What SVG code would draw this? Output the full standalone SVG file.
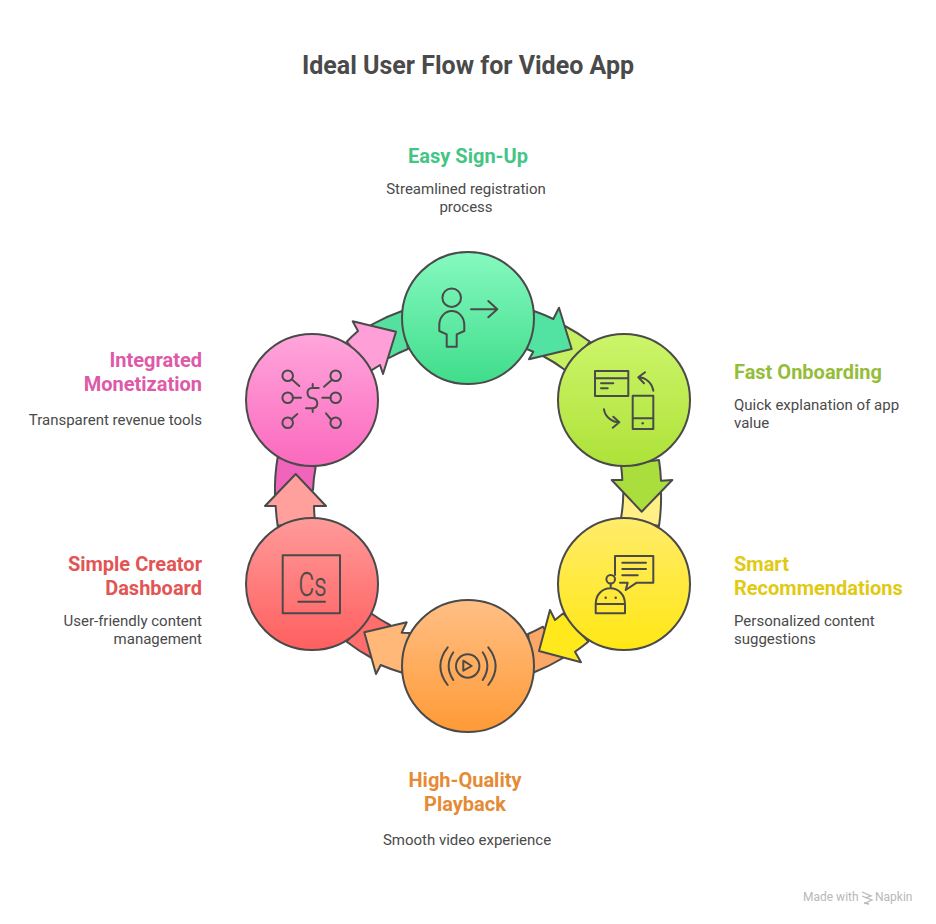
<svg xmlns="http://www.w3.org/2000/svg" width="936" height="924" viewBox="0 0 936 924">
<style>
.c{stroke:#4a4a4a;stroke-width:2;stroke-linejoin:round}
.i{fill:none;stroke:#4a4a4a;stroke-width:2;stroke-linecap:round;stroke-linejoin:round}
.t{font-family:Roboto,"Liberation Sans",sans-serif;font-weight:700;font-size:20px}
.b{font-family:Roboto,"Liberation Sans",sans-serif;font-size:15px;fill:#4a4a4a}
.r{text-anchor:end}.m{text-anchor:middle}
</style>
<defs>
<linearGradient id="gG" x1="0" y1="0" x2="0" y2="1"><stop offset="0" stop-color="#86f9c0"/><stop offset="1" stop-color="#3fdd8b"/></linearGradient>
<linearGradient id="gL" x1="0" y1="0" x2="0" y2="1"><stop offset="0" stop-color="#ccf56a"/><stop offset="1" stop-color="#aee238"/></linearGradient>
<linearGradient id="gY" x1="0" y1="0" x2="0" y2="1"><stop offset="0" stop-color="#ffec6a"/><stop offset="1" stop-color="#ffe714"/></linearGradient>
<linearGradient id="gO" x1="0" y1="0" x2="0" y2="1"><stop offset="0" stop-color="#ffbf85"/><stop offset="1" stop-color="#ff9a36"/></linearGradient>
<linearGradient id="gR" x1="0" y1="0" x2="0" y2="1"><stop offset="0" stop-color="#ff9a9a"/><stop offset="1" stop-color="#ff5f5f"/></linearGradient>
<linearGradient id="gP" x1="0" y1="0" x2="0" y2="1"><stop offset="0" stop-color="#ffa6dc"/><stop offset="1" stop-color="#fb69bd"/></linearGradient>
</defs>
<rect width="936" height="924" fill="#fff"/>
<text x="468" y="74" text-anchor="middle" font-family="Roboto,'Liberation Sans',sans-serif" font-weight="700" font-size="25" fill="#4a4a4a">Ideal User Flow for Video App</text>
<g id="connectors">
<path class="c" fill="#f064bc" d="M275 495A193 193 0 0 1 277.700 457L315.700 466.700A155 155 0 0 0 313 490Z"/>
<path class="c" fill="#ffa09c" d="M277.700 526A193 193 0 0 1 275.700 506H265L295.700 474L326 506H314A155 155 0 0 0 314.700 518Z"/>
<path class="c" fill="#ff6d6d" d="M371.700 658A193 193 0 0 1 346.700 641.700L371 613.300A155 155 0 0 0 390 625Z"/>
<path class="c" fill="#ffb878" d="M410 633L401.700 632.700L406.700 622.300L364.300 632.300L376 674L380.700 665A193 193 0 0 0 402.300 672.700Z"/>
<path class="c" fill="#fba766" d="M563 658A193 193 0 0 1 533 672.700L528 634A155 155 0 0 0 543 626.700Z"/>
<path class="c" fill="#ffe81c" d="M563.300 613.300L555 620L550 610L539 651L581 662.300L575 651.700A193 193 0 0 0 588.300 641.700Z"/>
<path class="c" fill="#ffef85" d="M661 493A193 193 0 0 1 659 526L621 518.300A155 155 0 0 0 623.300 493.300Z"/>
<path class="c" fill="#aade3c" d="M621 465A155 155 0 0 1 622.300 480H611.700L641.700 511.700L672.300 480L661 480.700A193 193 0 0 0 659 460Z"/>
<path class="c" fill="#c6f062" d="M565 326A193 193 0 0 1 590 341.700L565 370A155 155 0 0 0 543 356Z"/>
<path class="c" fill="#52e3a2" d="M534 311A193 193 0 0 1 553.300 319L559 307.700L571.700 349L529 359.300L533.300 351.700L526.700 349Z"/>
<path class="c" fill="#56e0a0" d="M371 325A193 193 0 0 1 402.700 310.700L408 349A155 155 0 0 0 389 358Z"/>
<path class="c" fill="#ff9fd8" d="M346.700 341.700A193 193 0 0 1 358 331L352.700 321.300L396 331.700L383 374L380 365L371 370.700Z"/>
</g>
<g id="node-signup">
<circle class="c" cx="468" cy="318" r="66" fill="url(#gG)"/>
<circle class="i" cx="451.700" cy="297.700" r="9.300"/>
<path class="i" d="M439.300 331V325A12.500 14 0 0 1 464.300 325V331L456.700 334.300V346.700H446.700V334.300Z"/>
<path class="i" d="M471 309.300H497.300M488.300 301L497.300 309.300L488.300 317.300"/>
</g>
<g id="node-onboarding">
<circle class="c" cx="624" cy="400" r="66" fill="url(#gL)"/>
<path class="i" d="M595 371H628.300V396H595ZM595 378.300H628.300M601 383.300H613.300M601 388.300H607.700M632.700 395.700H653.300V429H632.700ZM632.700 418.300H653.300"/>
<circle cx="642.700" cy="423.300" r="1.200" fill="#4a4a4a"/>
<path class="i" d="M653.300 390.700C652 383 646 377.500 638.300 377.300M645 372.300L638.300 377.300L644 383.300M604 409.300C605 416 611 422 619.300 422.300M613.300 416.700L619.300 422.300L612.700 427.700"/>
</g>
<g id="node-recommendations">
<circle class="c" cx="624" cy="584" r="66" fill="url(#gY)"/>
<path class="i" d="M615 575V556H653.300V582.700H636.700L625.700 590L627.700 582.700H620M622.300 562.700H646M622.300 569H646M622.300 575.300H637.700M610.700 583.600V588.300M595.700 604C595.700 595 602 588.300 610.300 588.300C618.600 588.300 625 595 625 604V613.300H595.700ZM595.700 604H625"/>
<circle class="i" cx="610.700" cy="579.300" r="4.300"/>
<circle cx="605.700" cy="597.700" r="1.200" fill="#4a4a4a"/><circle cx="615.700" cy="597.700" r="1.200" fill="#4a4a4a"/>
</g>
<g id="node-playback">
<circle class="c" cx="468" cy="666" r="66" fill="url(#gO)"/>
<circle class="i" cx="467.700" cy="666" r="11.700"/>
<path class="i" d="M463.300 660.700V670.700L471.700 666ZM482.700 652.300Q492 666 482.700 680M488.300 647.300Q503 666 488.300 685M453.300 652.300Q444 666 453.300 680M447.700 647.300Q433 666 447.700 685"/>
</g>
<g id="node-dashboard">
<circle class="c" cx="312" cy="584" r="66" fill="url(#gR)"/>
<path class="i" d="M282.700 555.300H340V613.300H282.700ZM298.300 601.700H325"/>
<text x="298.500" y="595.500" textLength="28" lengthAdjust="spacingAndGlyphs" font-family="Roboto,'Liberation Sans',sans-serif" font-weight="300" font-size="33" fill="#4a4a4a" stroke="#4a4a4a" stroke-width=".4">Cs</text>
</g>
<g id="node-monetization">
<circle class="c" cx="312" cy="400" r="66" fill="url(#gP)"/>
<g class="i"><circle cx="287.700" cy="375.700" r="5.300"/><circle cx="335.700" cy="375.700" r="5.300"/><circle cx="287.700" cy="397.700" r="5.300"/><circle cx="335.700" cy="397.700" r="5.300"/><circle cx="287.700" cy="422.700" r="5.300"/><circle cx="335.700" cy="422.700" r="5.300"/>
<path d="M291.700 379.300L299.300 386M331.700 380L324 386.700M292.700 397.700H301M330.700 397.700H322.300M291.700 419L297.300 414M330.700 419L326 413.300M312.700 384V387.700M312.700 408.300V412M318.700 388H312C306 388 306 397 312 398C319 399 319 408 312 408.300H306"/></g>
</g>
<g id="labels">
<text class="t m" x="468" y="163" fill="#45c585">Easy Sign-Up</text>
<text class="b m" x="466" y="194">Streamlined registration</text>
<text class="b m" x="466" y="212">process</text>
<text class="t" x="734" y="379" fill="#95bd3a">Fast Onboarding</text>
<text class="b" x="734" y="410">Quick explanation of app</text>
<text class="b" x="734" y="428">value</text>
<text class="t" x="734" y="571" fill="#e0ca14">Smart</text>
<text class="t" x="734" y="595" fill="#e0ca14">Recommendations</text>
<text class="b" x="734" y="626">Personalized content</text>
<text class="b" x="734" y="644">suggestions</text>
<text class="t m" x="465" y="787" fill="#e58a35">High-Quality</text>
<text class="t m" x="465" y="811" fill="#e58a35">Playback</text>
<text class="b m" x="467" y="845">Smooth video experience</text>
<text class="t r" x="202" y="571" fill="#e25555">Simple Creator</text>
<text class="t r" x="202" y="595" fill="#e25555">Dashboard</text>
<text class="b r" x="202" y="626">User-friendly content</text>
<text class="b r" x="202" y="644">management</text>
<text class="t r" x="202" y="367" fill="#de5aa8">Integrated</text>
<text class="t r" x="202" y="391" fill="#de5aa8">Monetization</text>
<text class="b r" x="202" y="425">Transparent revenue tools</text>
</g>
<g id="watermark" fill="#b8b8b8" font-family="Roboto,'Liberation Sans',sans-serif" font-size="12">
<text x="803" y="901">Made with</text>
<path d="M862 892L871 896L865 898M862 896L872 900L865 903M864 903L869 904" fill="none" stroke="#b8b8b8" stroke-width="1.300"/>
<text x="875" y="901">Napkin</text>
</g>
</svg>
